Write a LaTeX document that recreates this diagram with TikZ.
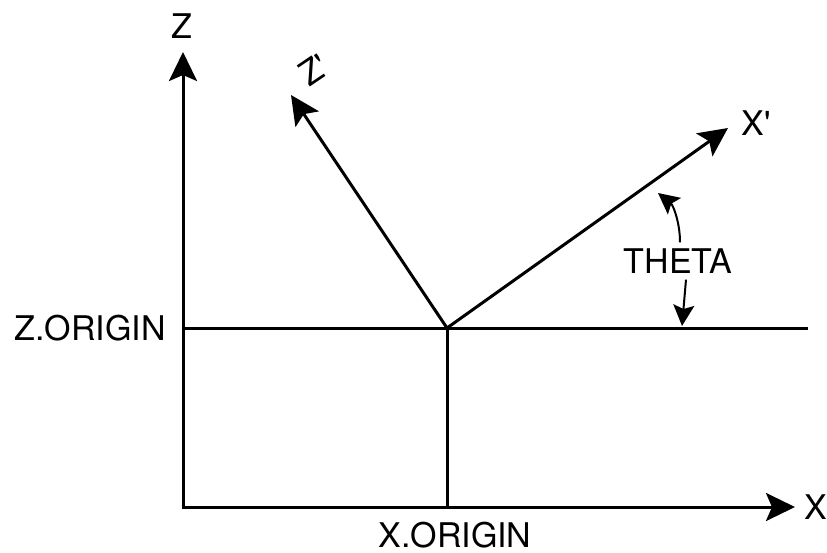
\documentclass[tikz,border=0pt]{standalone}
\usepackage{fontspec}
\setmainfont{TeX Gyre Heros}
\usetikzlibrary{arrows.meta,positioning}
\tikzstyle{axisline}=[line width=3pt, {Stealth[length=29pt,width=28pt,inset=6pt]}-{Stealth[length=29pt,width=28pt,inset=6pt]}]
\tikzstyle{primeaxis}=[line width=3pt, -{Stealth[length=29pt,width=28pt,inset=6pt]}]
\tikzstyle{plainline}=[line width=3pt]
\tikzstyle{thetaarrow}=[line width=2pt, -{Stealth[length=21pt,width=21pt,inset=4pt]}]
\tikzstyle{axislabel}=[font=\fontsize{34}{40}\selectfont, inner sep=0pt]

\begin{document}
\begin{tikzpicture}[x=1pt,y=-1pt]
        \useasboundingbox (0,0) rectangle (827,552);

        % Corner, origins and axis ends
        \coordinate (corner) at (183,507);
        \coordinate (ztip) at (183,52);
        \coordinate (xtip) at (795,507);
        \coordinate (origin) at (447,328);
        \coordinate (zoleft) at (183,328);
        \coordinate (zoright) at (808,328);
        \coordinate (xobase) at (447,507);
        \coordinate (zptip) at (291,95);
        \coordinate (xptip) at (728,128);

        % Labels
        \node[axislabel] (zlabel) at (182,26) {Z};
        \node[axislabel] (xlabel) at (816,507) {X};
        \node[axislabel] (zolabel) at (90,328) {Z.ORIGIN};
        \node[axislabel] (xolabel) at (455,535) {X.ORIGIN};
        \node[axislabel] (xplabel) at (756,123) {X\textquotesingle};
        \node[axislabel, rotate=34] (zplabel) at (314,70) {Z\textquotesingle};
        \node[axislabel, inner sep=6pt] (theta) at (678,261) {THETA};

        % Axes
        \draw[axisline] (ztip) -- (corner) -- (xtip);
        \draw[plainline] (zoleft) -- (zoright);
        \draw[plainline] (origin) -- (xobase);
        \draw[primeaxis] (origin) -- (zptip);
        \draw[primeaxis] (origin) -- (xptip);

        % Angle marks
        \coordinate (thtop) at (658,193);
        \coordinate (thbottom) at (682,326);
        \draw[thetaarrow] ([xshift=2pt]theta.north) .. controls (680,222) and (673,205) .. (thtop);
        \draw[thetaarrow] ([xshift=8pt]theta.south) -- (thbottom);
\end{tikzpicture}
\end{document}
